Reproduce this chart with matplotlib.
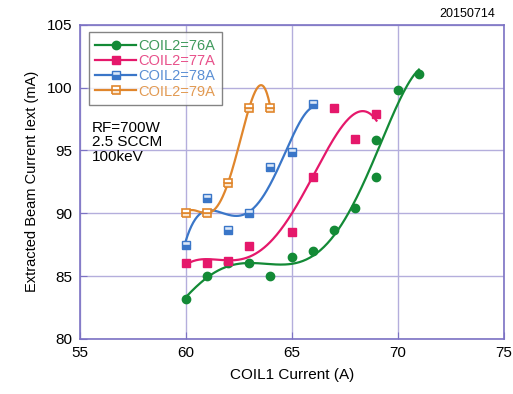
import numpy as np
import matplotlib
matplotlib.use("Agg")
import matplotlib.pyplot as plt

plt.rcParams['font.family'] = ['Liberation Sans', 'DejaVu Sans']

# data
x76 = [60, 61, 62, 63, 64, 65, 66, 67, 68, 69, 69, 70, 71]
y76 = [83.2, 85.0, 86.0, 86.0, 85.0, 86.5, 87.0, 88.7, 90.4, 92.9, 95.8, 99.8, 101.1]
x77 = [60, 61, 62, 63, 65, 66, 67, 68, 69]
y77 = [86.0, 86.0, 86.2, 87.4, 88.5, 92.9, 98.4, 95.9, 97.9]
x78 = [60, 61, 62, 63, 64, 65, 66]
y78 = [87.5, 91.2, 88.7, 90.0, 93.7, 94.9, 98.7]
x79 = [60, 61, 62, 63, 64]
y79 = [90.0, 90.0, 92.4, 98.4, 98.4]
labels = ['COIL2=76A', 'COIL2=77A', 'COIL2=78A', 'COIL2=79A']
fit_deg = [5, 4, 4, 4]

colors = ['#138a36', '#e5186b', '#3a76c8', '#e0862c']
text_colors = ['#3f9a5c', '#e8508a', '#5b8fd4', '#e29a52']
frame = '#7c72c4'
grid = '#b4aedc'

fig = plt.figure(figsize=(5.13, 3.94), dpi=100)
ax = fig.add_axes([0.155, 0.140, 0.827, 0.797])

series = [(x76, y76), (x77, y77), (x78, y78), (x79, y79)]
marker_kw = [
    dict(marker='o', markersize=6, markerfacecolor=colors[0], markeredgecolor=colors[0]),
    dict(marker='s', markersize=6, markerfacecolor=colors[1], markeredgecolor=colors[1]),
    dict(marker='s', markersize=6, fillstyle='bottom', markerfacecolor=colors[2],
         markerfacecoloralt='#dce8f8', markeredgecolor=colors[2], markeredgewidth=1),
    dict(marker='s', markersize=6, fillstyle='bottom', markerfacecolor='#fbe6cf',
         markerfacecoloralt='white', markeredgecolor=colors[3], markeredgewidth=1.2),
]

for (xs, ys), c, lab, deg, mk in zip(series, colors, labels, fit_deg, marker_kw):
    xs = np.array(xs, float)
    ys = np.array(ys, float)
    p = np.polyfit(xs, ys, deg)
    xx = np.linspace(xs.min(), xs.max(), 200)
    ax.plot(xx, np.polyval(p, xx), color=c, lw=1.6, zorder=3)
    ax.plot(xs, ys, linestyle='none', zorder=4, **mk)
    # legend proxy
    ax.plot([], [], color=c, lw=1.6, label=lab, **mk)

ax.set_xlim(55, 75)
ax.set_ylim(80, 105)
ax.set_xticks([55, 60, 65, 70, 75])
ax.set_yticks([80, 85, 90, 95, 100, 105])
ax.grid(True, color=grid, lw=1.0, zorder=0)
for s in ax.spines.values():
    s.set_color(frame)
    s.set_linewidth(1.2)
ax.tick_params(direction='in', color=frame, length=5, labelsize=11, pad=5)

ax.set_xlabel('COIL1 Current (A)', fontsize=11, labelpad=6)
ax.set_ylabel('Extracted Beam Current Iext (mA)', fontsize=10.5, labelpad=6)

leg = ax.legend(loc='upper left', bbox_to_anchor=(0.015, 0.985), fontsize=10.5,
                frameon=True, fancybox=False, edgecolor='#666666',
                handlelength=2.8, borderpad=0.45, labelspacing=0.08,
                handletextpad=0.15, borderaxespad=0.2)
leg.get_frame().set_linewidth(1.0)
for t, c in zip(leg.get_texts(), text_colors):
    t.set_color(c)

ax.text(0.03, 0.695, 'RF=700W\n2.5 SCCM\n100keV', transform=ax.transAxes,
        fontsize=11, va='top', ha='left', linespacing=1.05)

fig.text(0.965, 0.965, '20150714', fontsize=9, ha='right', va='center')

fig.savefig('out.png', dpi=100)
